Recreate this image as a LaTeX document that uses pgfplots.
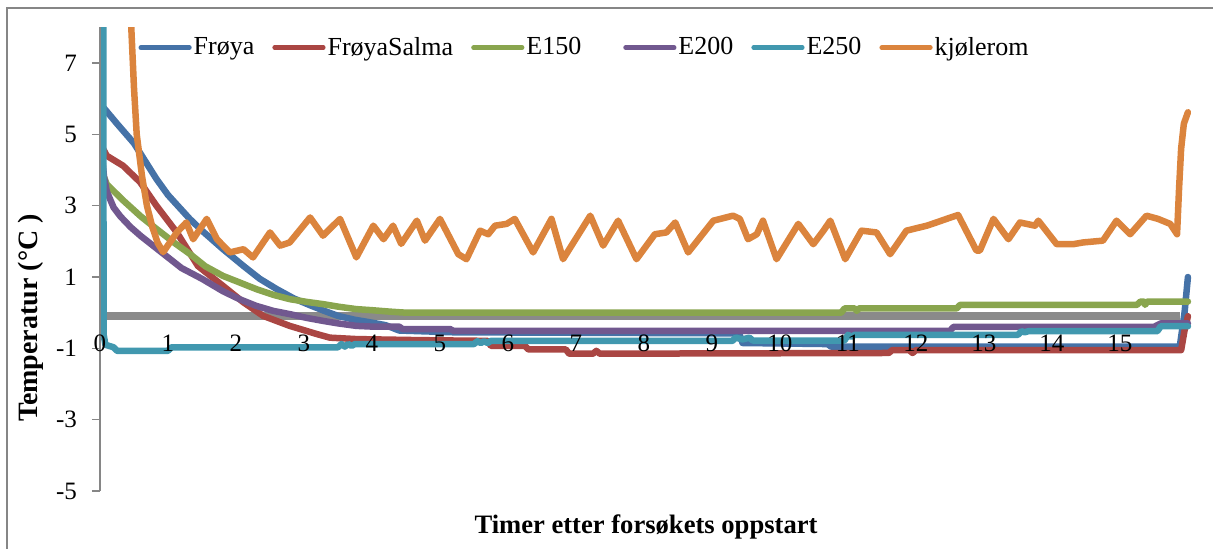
\documentclass[border=0pt]{standalone}
\usepackage{fontspec}
\setmainfont{Liberation Serif}
\usepackage{pgfplots}
\pgfplotsset{compat=1.18}

\definecolor{cFroya}{RGB}{69,114,167}
\definecolor{cSalma}{RGB}{170,70,67}
\definecolor{cEa}{RGB}{137,165,78}
\definecolor{cEb}{RGB}{113,88,143}
\definecolor{cEc}{RGB}{65,152,175}
\definecolor{cKjol}{RGB}{219,132,61}
\definecolor{cZero}{RGB}{138,138,138}
\definecolor{cFrame}{RGB}{134,134,134}

\begin{document}
\begin{tikzpicture}
\useasboundingbox (-50pt,-29pt) rectangle (556.5pt,245.5pt);
% chart frame
\draw[cFrame, line width=0.8pt] (-46.5pt,-40pt) rectangle (562pt,241.5pt);
\begin{axis}[
  at={(0pt,0pt)}, anchor=south west,
  scale only axis, width=546pt, height=231.8pt,
  xmin=0, xmax=16.06, ymin=-5, ymax=8,
  axis on top,
  axis x line*=middle, axis y line*=left,
  hide obscured x ticks=false,
  x axis line style={draw=none},
  y axis line style={draw=cFrame, line width=0.8pt},
  xtick={0,1,...,15}, ytick={-5,-3,-1,1,3,5,7},
  xtick style={draw=none},
  ytick style={draw=cFrame, line width=0.8pt},
  tick align=outside, major tick length=4pt,
  /pgf/number format/assume math mode=true,
  tick label style={font=\fontsize{12.5}{15}\selectfont},
  xticklabel style={yshift=-3.5pt},
  yticklabel style={xshift=-4pt},
  every axis x label/.style={at={(rel axis cs:0.5,-0.0776)}, anchor=center},
  every axis y label/.style={at={(rel axis cs:-0.0632,0.373)}, anchor=center, rotate=90},
  xlabel={\fontsize{13.3}{15}\selectfont\bfseries Timer etter forsøkets oppstart},
  ylabel={\fontsize{14}{16}\selectfont\bfseries Temperatur (°C )},
  every axis plot/.append style={line width=3.25pt, line cap=round, line join=round},
  legend columns=6,
  legend style={at={(rel axis cs:0.0349,0.9564)}, anchor=west, draw=none, fill=none,
    inner sep=0pt, font=\fontsize{13}{15}\selectfont,
    nodes={inner sep=1pt},
    /tikz/every even column/.append style={column sep=8pt}},
  legend image code/.code={\draw[line width=2.3pt, line cap=round] (1.2pt,0pt) -- (25.5pt,0pt);},
]
% horizontal zero line
\addplot[cZero, line width=4.2pt, line cap=butt, forget plot]
  coordinates {(0.02,-0.1) (15.88,-0.1)};

\addplot[cFroya] coordinates {
(0.03,5.8) (0.25,5.3) (0.5,4.75) (0.83,3.75) (1.0,3.3) (1.32,2.63) (1.5,2.3)
(1.81,1.78) (2.11,1.31) (2.35,0.95) (2.6,0.66) (2.85,0.4) (3.1,0.2) (3.3,0.05)
(3.5,-0.09) (3.75,-0.2) (4.0,-0.28) (4.2,-0.35) (4.4,-0.5) (5.2,-0.55)
(9.4,-0.58) (9.45,-0.85) (10.7,-0.88) (10.75,-0.95) (15.88,-0.95) (15.95,0.0) (16.0,1.0)};
\addlegendentry{Frøya}

\addplot[cSalma] coordinates {
(0.03,4.65) (0.1,4.4) (0.34,4.12) (0.59,3.66) (0.83,3.0) (1.13,2.25) (1.44,1.31)
(1.81,0.75) (2.11,0.29) (2.4,-0.09) (2.79,-0.37) (3.19,-0.6) (3.38,-0.7) (3.77,-0.74)
(4.7,-0.77) (5.7,-0.79) (5.75,-0.93) (6.25,-0.93) (6.3,-1.03) (6.85,-1.03) (6.9,-1.15)
(7.25,-1.15) (7.3,-1.07) (7.35,-1.15) (11.6,-1.13) (11.65,-1.05) (11.9,-1.05)
(11.95,-1.13) (12.0,-1.05) (15.9,-1.05) (15.95,-0.5) (16.0,-0.1)};
\addlegendentry{FrøyaSalma}

\addplot[cEa] coordinates {
(0.03,3.95) (0.1,3.6) (0.34,3.15) (0.6,2.7) (0.83,2.35) (1.1,1.95) (1.32,1.65)
(1.55,1.3) (1.81,1.03) (2.05,0.85) (2.3,0.66) (2.55,0.5) (2.79,0.38) (3.05,0.3)
(3.28,0.24) (3.5,0.17) (3.77,0.1) (4.0,0.07) (4.26,0.03) (4.5,0.0) (10.9,0.0)
(10.95,0.12) (11.1,0.12) (11.13,0.05) (11.16,0.12) (12.6,0.12) (12.65,0.22)
(15.25,0.22) (15.3,0.31) (15.35,0.31) (15.37,0.22) (15.4,0.31) (16.0,0.31)};
\addlegendentry{E150\hspace*{12pt}}

\addplot[cEb] coordinates {
(0.03,4.4) (0.06,3.8) (0.1,3.4) (0.2,2.95) (0.3,2.7) (0.45,2.4) (0.6,2.15)
(0.8,1.85) (1.0,1.55) (1.2,1.25) (1.5,0.95) (1.81,0.6) (2.05,0.38) (2.3,0.19)
(2.55,0.05) (2.79,-0.04) (3.05,-0.15) (3.28,-0.23) (3.5,-0.3) (3.77,-0.37)
(4.0,-0.39) (4.4,-0.39) (4.45,-0.46) (5.15,-0.46) (5.2,-0.51) (12.5,-0.51)
(12.55,-0.4) (15.5,-0.4) (15.6,-0.3) (16.0,-0.3)};
\addlegendentry{E200}

\addplot[cEc] coordinates {
(0.05,12) (0.052,-0.6) (0.08,-0.9) (0.2,-0.97) (0.25,-1.07) (1.0,-1.07) (1.05,-0.97)
(3.5,-0.97) (3.55,-0.88) (3.6,-0.95) (3.65,-0.88) (3.7,-0.93) (3.75,-0.88)
(5.5,-0.88) (5.55,-0.8) (5.6,-0.85) (5.65,-0.8) (5.7,-0.85) (5.75,-0.79)
(9.3,-0.79) (9.35,-0.7) (9.45,-0.75) (9.55,-0.7) (9.6,-0.78) (10.95,-0.78)
(11.0,-0.62) (11.05,-0.68) (11.1,-0.62) (13.5,-0.62) (13.55,-0.52) (13.6,-0.55)
(13.65,-0.52) (15.55,-0.52) (15.6,-0.38) (16.0,-0.38)};
\addlegendentry{E250}

\addplot[cKjol] coordinates {
(0.43,12) (0.46,8) (0.5,6.3) (0.54,5.0) (0.62,3.8) (0.69,3.0) (0.77,2.4) (0.85,1.95)
(0.93,1.7) (1.13,2.25) (1.27,2.53) (1.37,2.06) (1.57,2.63) (1.72,2.06) (1.91,1.69)
(2.11,1.78) (2.25,1.55) (2.5,2.25) (2.65,1.88) (2.79,1.97) (3.09,2.67) (3.28,2.16)
(3.53,2.63) (3.77,1.55) (4.02,2.44) (4.17,2.06) (4.31,2.44) (4.43,1.93) (4.66,2.58)
(4.78,2.02) (5.0,2.63) (5.27,1.64) (5.39,1.5) (5.59,2.3) (5.71,2.2) (5.81,2.44)
(5.98,2.49) (6.1,2.63) (6.37,1.69) (6.64,2.63) (6.81,1.5) (7.21,2.72) (7.4,1.88)
(7.62,2.58) (7.89,1.5) (8.16,2.2) (8.33,2.25) (8.46,2.53) (8.65,1.69) (9.02,2.58)
(9.31,2.72) (9.41,2.63) (9.53,2.06) (9.66,2.2) (9.75,2.58) (9.95,1.5) (10.27,2.49)
(10.49,1.92) (10.64,2.3) (10.74,2.58) (10.96,1.5) (11.2,2.3) (11.42,2.25) (11.62,1.64)
(11.86,2.3) (12.16,2.44) (12.3,2.53) (12.45,2.63) (12.62,2.74) (12.89,1.74) (12.94,1.74)
(13.14,2.63) (13.36,2.06) (13.53,2.53) (13.75,2.44) (13.8,2.58) (14.07,1.92) (14.31,1.92)
(14.46,1.97) (14.75,2.02) (14.95,2.58) (15.15,2.2) (15.39,2.72) (15.56,2.63) (15.74,2.49)
(15.84,2.2) (15.87,3.5) (15.9,4.6) (15.94,5.3) (16.0,5.62)};
\addlegendentry{kjølerom}
\end{axis}
\end{tikzpicture}
\end{document}
